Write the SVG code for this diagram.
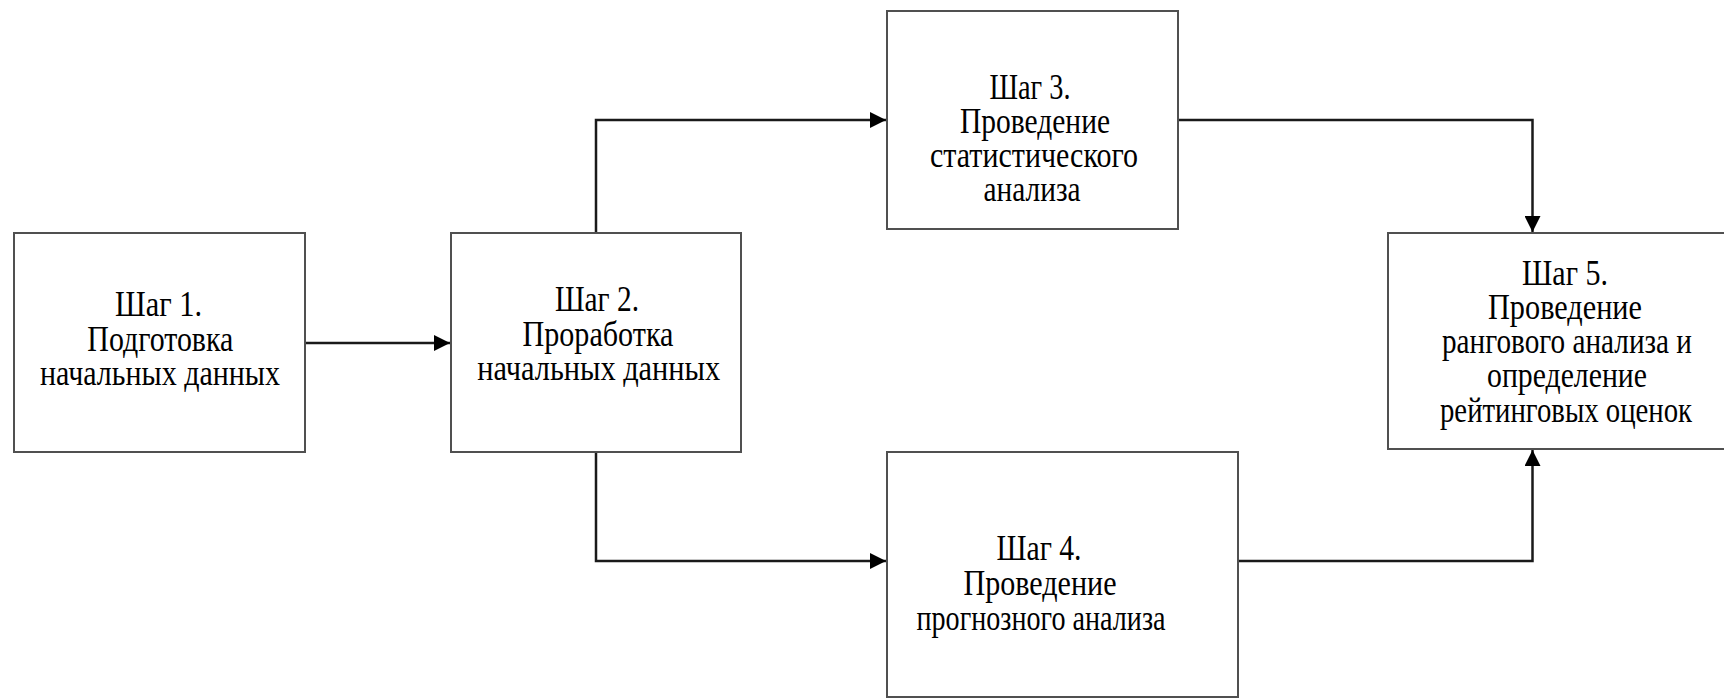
<svg xmlns="http://www.w3.org/2000/svg" width="1724" height="699" viewBox="0 0 1724 699">
<style>
.box{fill:#ffffff;stroke:#505050;stroke-width:2}
.t{font-family:"Liberation Serif","Times New Roman",serif;font-size:36px;fill:#000;text-anchor:middle}
.c{fill:none;stroke:#1a1a1a;stroke-width:2.5}
</style>
<defs>
<marker id="ah" viewBox="0 0 10 10" refX="10" refY="5" markerWidth="17" markerHeight="16" markerUnits="userSpaceOnUse" orient="auto">
<path d="M0,0 L10,5 L0,10 z" fill="#000"/>
</marker>
</defs>
<rect width="1724" height="699" fill="#ffffff"/>
<g id="connectors">
<path class="c" d="M305,343 L450,343" marker-end="url(#ah)"/>
<path class="c" d="M596,233 L596,120 L886,120" marker-end="url(#ah)"/>
<path class="c" d="M1178,120 L1532.5,120 L1532.5,232" marker-end="url(#ah)"/>
<path class="c" d="M596,452 L596,561 L886,561" marker-end="url(#ah)"/>
<path class="c" d="M1238,561 L1532.5,561 L1532.5,450" marker-end="url(#ah)"/>
</g>
<g id="step1">
<rect class="box" x="14" y="233" width="291" height="219"/>
<text class="t" x="158.5" y="316" textLength="87" lengthAdjust="spacingAndGlyphs">Шаг 1.</text>
<text class="t" x="160.3" y="350.7" textLength="146" lengthAdjust="spacingAndGlyphs">Подготовка</text>
<text class="t" x="160" y="385" textLength="240" lengthAdjust="spacingAndGlyphs">начальных данных</text>
</g>
<g id="step2">
<rect class="box" x="451" y="233" width="290" height="219"/>
<text class="t" x="597" y="311" textLength="84" lengthAdjust="spacingAndGlyphs">Шаг 2.</text>
<text class="t" x="598" y="346" textLength="151" lengthAdjust="spacingAndGlyphs">Проработка</text>
<text class="t" x="598.7" y="380" textLength="243" lengthAdjust="spacingAndGlyphs">начальных данных</text>
</g>
<g id="step3">
<rect class="box" x="887" y="11" width="291" height="218"/>
<text class="t" x="1030" y="98.5" textLength="81" lengthAdjust="spacingAndGlyphs">Шаг 3.</text>
<text class="t" x="1035" y="132.5" textLength="150" lengthAdjust="spacingAndGlyphs">Проведение</text>
<text class="t" x="1034" y="166.5" textLength="208" lengthAdjust="spacingAndGlyphs">статистического</text>
<text class="t" x="1032" y="200.5" textLength="97" lengthAdjust="spacingAndGlyphs">анализа</text>
</g>
<g id="step4">
<rect class="box" x="887" y="452" width="351" height="245"/>
<text class="t" x="1039" y="559.5" textLength="85" lengthAdjust="spacingAndGlyphs">Шаг 4.</text>
<text class="t" x="1040" y="594.5" textLength="153" lengthAdjust="spacingAndGlyphs">Проведение</text>
<text class="t" x="1041" y="629.5" textLength="249" lengthAdjust="spacingAndGlyphs">прогнозного анализа</text>
</g>
<g id="step5">
<rect class="box" x="1388" y="233" width="360" height="216"/>
<text class="t" x="1565" y="285" textLength="86" lengthAdjust="spacingAndGlyphs">Шаг 5.</text>
<text class="t" x="1565" y="319" textLength="154" lengthAdjust="spacingAndGlyphs">Проведение</text>
<text class="t" x="1567" y="353" textLength="250" lengthAdjust="spacingAndGlyphs">рангового анализа и</text>
<text class="t" x="1567" y="387" textLength="160" lengthAdjust="spacingAndGlyphs">определение</text>
<text class="t" x="1566" y="421.5" textLength="252" lengthAdjust="spacingAndGlyphs">рейтинговых оценок</text>
</g>
</svg>
